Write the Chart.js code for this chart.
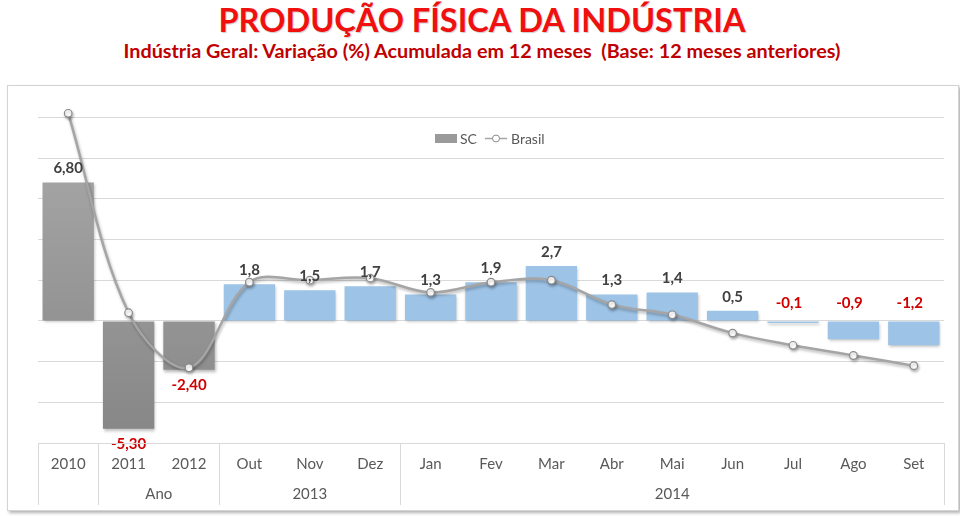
<!DOCTYPE html>
<html>
<head>
<meta charset="utf-8">
<title>Produção Física da Indústria</title>
<script src="https://cdn.jsdelivr.net/npm/chart.js"></script>
<style>
    body {
        margin: 0;
        width: 960px;
        height: 516px;
        background: #fff;
        font-family: 'Lato', 'Open Sans', sans-serif;
        position: relative;
        overflow: hidden;
    }
    #title {
        position: absolute;
        top: 0;
        left: 0;
        width: 964px;
        text-align: center;
        color: #f01010;
        font-weight: bold;
        font-size: 32.5px;
        line-height: 40px;
        text-shadow: 1px 1px 1px rgba(0, 0, 0, 0.2);
    }
    #subtitle {
        position: absolute;
        top: 38px;
        left: 0;
        width: 964px;
        text-align: center;
        color: #c00000;
        font-weight: bold;
        font-size: 19.8px;
        line-height: 24px;
        white-space: pre;
    }
    .box {
        position: absolute;
        left: 7px;
        top: 85px;
        width: 950px;
        height: 424px;
        border: 1px solid #d4d4d4;
        box-shadow: 2px 2px 3px rgba(0, 0, 0, 0.3);
        background: #fff;
    }
    canvas {
        display: block;
    }
</style>
</head>
<body>
    <div id="title">PRODUÇÃO FÍSICA DA INDÚSTRIA</div>
    <div id="subtitle">Indústria Geral: Variação (%) Acumulada em 12 meses  (Base: 12 meses anteriores)</div>
    <div class="box">
        <canvas id="chart" width="950" height="424"></canvas>
    </div>

<script>
    // categories and groups of the two-level x axis
    const categories = ['2010', '2011', '2012', 'Out', 'Nov', 'Dez', 'Jan', 'Fev', 'Mar', 'Abr', 'Mai', 'Jun', 'Jul', 'Ago', 'Set'];
    const groupLabels = ['', 'Ano', '2013', '2014'];
    const groupSizes = [1, 2, 3, 9];

    // series
    const scValues = [6.80, -5.30, -2.40, 1.8, 1.5, 1.7, 1.3, 1.9, 2.7, 1.3, 1.4, 0.5, -0.1, -0.9, -1.2];
    const brasilValues = [10.2, 0.4, -2.3, 1.9, 2.0, 2.1, 1.4, 1.9, 2.0, 0.8, 0.3, -0.6, -1.2, -1.7, -2.2];

    // first categories are whole years, the rest are months
    const yearCount = groupSizes[0] + groupSizes[1];

    const FONT = "'Lato', 'Open Sans', sans-serif";

    function barColor(ctx) {
        if (ctx.dataIndex >= yearCount) return '#9dc3e6';
        const area = ctx.chart.chartArea;
        if (!area) return '#9a9a9a';
        const g = ctx.chart.ctx.createLinearGradient(0, area.top, 0, area.bottom);
        g.addColorStop(0, '#acacac');
        g.addColorStop(1, '#868686');
        return g;
    }

    function fmt(v, i) {
        return v.toFixed(i < yearCount ? 2 : 1).replace('.', ',');
    }

    // soft shadow under bars and line
    const shadowPlugin = {
        id: 'shadow',
        beforeDatasetDraw(chart) {
            const c = chart.ctx;
            c.save();
            c.shadowColor = 'rgba(0,0,0,0.28)';
            c.shadowBlur = 3;
            c.shadowOffsetX = 1;
            c.shadowOffsetY = 2;
        },
        afterDatasetDraw(chart) {
            chart.ctx.restore();
        }
    };

    // value labels, legend and the grouped category axis
    const decorPlugin = {
        id: 'decor',
        afterDraw(chart) {
            const c = chart.ctx;
            const x = chart.scales.x;
            const y = chart.scales.y;
            const area = chart.chartArea;
            const zero = y.getPixelForValue(0);
            const bars = chart.getDatasetMeta(0).data;

            c.save();
            c.textAlign = 'center';
            c.textBaseline = 'middle';
            c.font = 'bold 15px ' + FONT;
            scValues.forEach(function (v, i) {
                const bx = bars[i].x;
                let ty;
                if (v >= 0) {
                    ty = y.getPixelForValue(v) - 14;
                } else if (i < yearCount) {
                    ty = y.getPixelForValue(v) + 15;
                } else {
                    ty = zero - 18;
                }
                c.fillStyle = v >= 0 ? '#404040' : '#d00000';
                c.fillText(fmt(v, i), bx - (v < 0 && i >= yearCount ? 4 : 0), ty);
            });

            // category axis
            const top = area.bottom;
            const bottom = area.bottom + 62;
            c.strokeStyle = '#d9d9d9';
            c.lineWidth = 1;
            c.beginPath();
            c.moveTo(area.left, top + 0.5);
            c.lineTo(area.right, top + 0.5);
            c.stroke();

            c.font = '15px ' + FONT;
            c.fillStyle = '#595959';
            categories.forEach(function (lab, i) {
                c.fillText(lab, x.getPixelForValue(i), top + 21);
            });

            const step = (area.right - area.left) / categories.length;
            let start = 0;
            groupSizes.forEach(function (n, g) {
                const x0 = area.left + start * step;
                const x1 = area.left + (start + n) * step;
                c.beginPath();
                c.moveTo(Math.round(x0) + 0.5, top);
                c.lineTo(Math.round(x0) + 0.5, bottom);
                c.stroke();
                if (g === groupSizes.length - 1) {
                    c.beginPath();
                    c.moveTo(Math.round(x1) + 0.5, top);
                    c.lineTo(Math.round(x1) + 0.5, bottom);
                    c.stroke();
                }
                c.fillText(groupLabels[g], (x0 + x1) / 2, top + 51);
                start += n;
            });

            // legend
            const lx = 427;
            const ly = 52;
            c.fillStyle = '#9a9a9a';
            c.fillRect(lx, ly - 4, 22, 9);
            c.font = '14px ' + FONT;
            c.fillStyle = '#595959';
            c.textAlign = 'left';
            c.fillText('SC', lx + 25, ly + 1);
            c.strokeStyle = '#a5a5a5';
            c.lineWidth = 1.5;
            c.beginPath();
            c.moveTo(lx + 50, ly + 0.5);
            c.lineTo(lx + 72, ly + 0.5);
            c.stroke();
            c.beginPath();
            c.arc(lx + 61, ly + 0.5, 3.5, 0, Math.PI * 2);
            c.fillStyle = '#fff';
            c.fill();
            c.strokeStyle = '#8c8c8c';
            c.lineWidth = 1;
            c.stroke();
            c.fillStyle = '#595959';
            c.fillText('Brasil', lx + 76, ly + 1);
            c.restore();
        }
    };

    const chart = new Chart(document.getElementById('chart'), {
        type: 'bar',
        data: {
            labels: categories,
            datasets: [{
                label: 'SC',
                data: scValues,
                backgroundColor: barColor,
                barPercentage: 0.85,
                categoryPercentage: 1,
                order: 2
            }, {
                type: 'line',
                label: 'Brasil',
                data: brasilValues,
                borderColor: '#a5a5a5',
                borderWidth: 2.5,
                tension: 0.35,
                pointRadius: 3.8,
                pointBackgroundColor: '#ffffff',
                pointBorderColor: '#8a8a8a',
                pointBorderWidth: 1.2,
                clip: false,
                order: 1
            }]
        },
        options: {
            responsive: false,
            animation: false,
            layout: {
                padding: { left: 30, right: 14, top: 11, bottom: 67 }
            },
            plugins: {
                legend: { display: false },
                tooltip: { enabled: false }
            },
            scales: {
                x: {
                    display: false
                },
                y: {
                    min: -6,
                    max: 11,
                    ticks: { display: false, stepSize: 2 },
                    border: { display: false },
                    grid: {
                        drawTicks: false,
                        color: function (ctx) {
                            return ctx.tick && ctx.tick.value % 2 === 0 && ctx.tick.value > -6 ? '#d9d9d9' : 'rgba(0,0,0,0)';
                        }
                    }
                }
            }
        },
        plugins: [shadowPlugin, decorPlugin]
    });
</script>
</body>
</html>
